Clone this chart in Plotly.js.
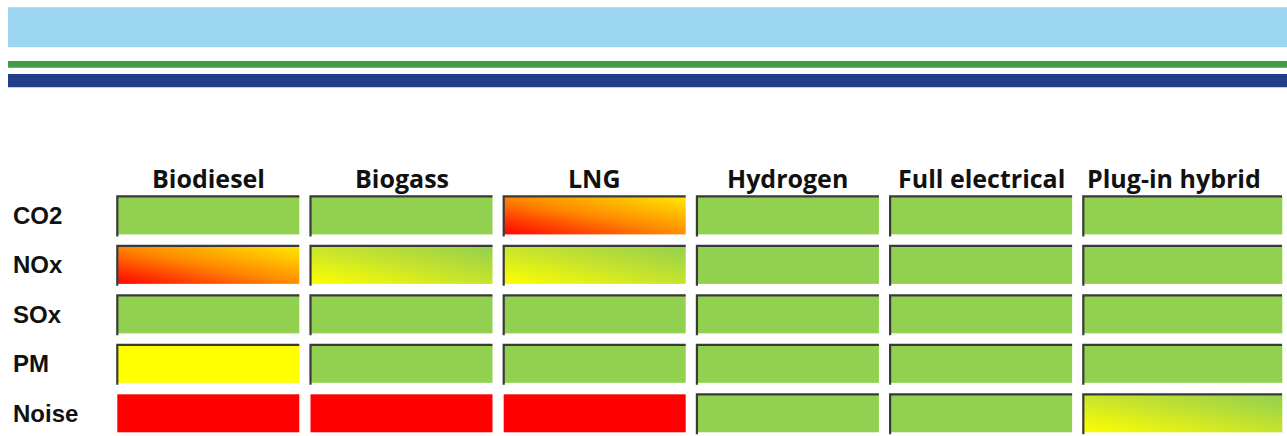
<!DOCTYPE html>
<html><head><meta charset="utf-8">
<script src="https://cdn.plot.ly/plotly-3.0.1.min.js"></script>
<style>html,body{margin:0;padding:0;background:#fff;overflow:hidden}#chart{width:1287px;height:436px;}</style>
</head><body><div id="chart"></div>
<script>
// ---------- data ----------
const fuels = ['Biodiesel', 'Biogass', 'LNG', 'Hydrogen', 'Full electrical', 'Plug-in hybrid'];
const pollutants = ['CO2', 'NOx', 'SOx', 'PM', 'Noise'];
// G = green, Y = yellow, R = red, RY = red→yellow gradient, YG = yellow→green gradient
const ratingCO2   = ['G',  'G',  'RY', 'G', 'G', 'G'];
const ratingNOx   = ['RY', 'YG', 'YG', 'G', 'G', 'G'];
const ratingSOx   = ['G',  'G',  'G',  'G', 'G', 'G'];
const ratingPM    = ['Y',  'G',  'G',  'G', 'G', 'G'];
const ratingNoise = ['R',  'R',  'R',  'G', 'G', 'YG'];
const ratings = [ratingCO2, ratingNOx, ratingSOx, ratingPM, ratingNoise];

// ---------- styles ----------
const palette = {
  G:  {stops: ['#92D050', '#92D050'], border: true},
  Y:  {stops: ['#FFFF00', '#FFFF00'], border: true},
  R:  {stops: ['#FF0000', '#FF0000'], border: false},
  RY: {stops: ['#FF0000', '#FF8A00', '#FFEA00'], border: true},
  YG: {stops: ['#FFFF00', '#C8E42C', '#92D050'], border: true}
};
const W = 1287, H = 436;
const MARGIN = {l: 102, r: 0, t: 190, b: 0, pad: 0};
const xRange = [-0.5502, 5.5833];
const yRange = [4.4588, -0.5134];
const halfW = 0.471, lastRightHalf = 0.5574, halfH = 0.384, shadowExt = 0.04;
const NX = 24, NY = 6;

const traces = [];
const bx = [], by = [];
ratings.forEach((row, j) => {
  row.forEach((code, i) => {
    const st = palette[code];
    const x0 = i - halfW;
    const x1 = i + (i === fuels.length - 1 ? lastRightHalf : halfW);
    const y0 = j - halfH, y1 = j + halfH;
    const cs = st.stops.map((c, n) => [n / (st.stops.length - 1), c]);
    const flat = st.stops.every(c => c === st.stops[0]);
    let tr;
    if (flat) {
      tr = {type: 'heatmap', x: [x0, x1], y: [y0, y1], z: [[0]], zmin: 0, zmax: 1,
            colorscale: cs, showscale: false, hoverinfo: 'skip', zsmooth: false};
    } else {
      const xe = [], ye = [], z = [];
      for (let k = 0; k <= NX; k++) xe.push(x0 + (x1 - x0) * k / NX);
      for (let m = 0; m <= NY; m++) ye.push(y0 + (y1 - y0) * m / NY);
      for (let m = 0; m < NY; m++) {
        const r = [];
        for (let k = 0; k < NX; k++) r.push(((k + 0.5) / NX + 1 - (m + 0.5) / NY) / 2);
        z.push(r);
      }
      tr = {type: 'heatmap', x: xe, y: ye, z: z, zmin: 0, zmax: 1, colorscale: cs,
            showscale: false, hoverinfo: 'skip', zsmooth: 'best'};
    }
    traces.push(tr);
    if (st.border) {
      bx.push(x0, x0, x1, null);
      by.push(y1 + shadowExt, y0, y0, null);
    }
  });
});
traces.push({type: 'scatter', mode: 'lines', x: bx, y: by, hoverinfo: 'skip',
             line: {color: '#3a3a3a', width: 2.2}, showlegend: false});

const pw = W - MARGIN.l - MARGIN.r, ph = H - MARGIN.t - MARGIN.b;
const pxX = p => (p - MARGIN.l) / pw;
const pxY = p => (H - MARGIN.b - p) / ph;

const annotations = [];
fuels.forEach((f, i) => annotations.push({
  text: '<b>' + f + '</b>', x: i, xref: 'x', y: pxY(177.5), yref: 'paper',
  xanchor: 'center', yanchor: 'middle', showarrow: false,
  font: {family: 'Open Sans, sans-serif', size: 25, color: '#111'}
}));
pollutants.forEach((p, j) => annotations.push({
  text: '<b>' + p + '</b>', x: pxX(11), xref: 'paper', y: j, yref: 'y',
  xanchor: 'left', yanchor: 'middle', showarrow: false,
  font: {family: 'Liberation Sans, Arial, sans-serif', size: 24, color: '#111'}
}));

const bands = [
  {top: 7.3, bottom: 47.3, color: '#9DD6F1'},
  {top: 61, bottom: 67.7, color: '#3F9C47'},
  {top: 74, bottom: 87.3, color: '#233F8C'}
];
const shapes = bands.map(b => ({
  type: 'rect', xref: 'paper', yref: 'paper', x0: pxX(8), x1: pxX(W), y0: pxY(b.bottom), y1: pxY(b.top),
  fillcolor: b.color, line: {width: 0}, layer: 'below'
}));

const layout = {
  width: W, height: H, margin: MARGIN, showlegend: false,
  paper_bgcolor: '#fff', plot_bgcolor: '#fff',
  xaxis: {range: xRange, visible: false, fixedrange: true},
  yaxis: {range: yRange, visible: false, fixedrange: true},
  annotations: annotations, shapes: shapes
};
Plotly.newPlot('chart', traces, layout, {staticPlot: true, displayModeBar: false});
</script></body></html>
